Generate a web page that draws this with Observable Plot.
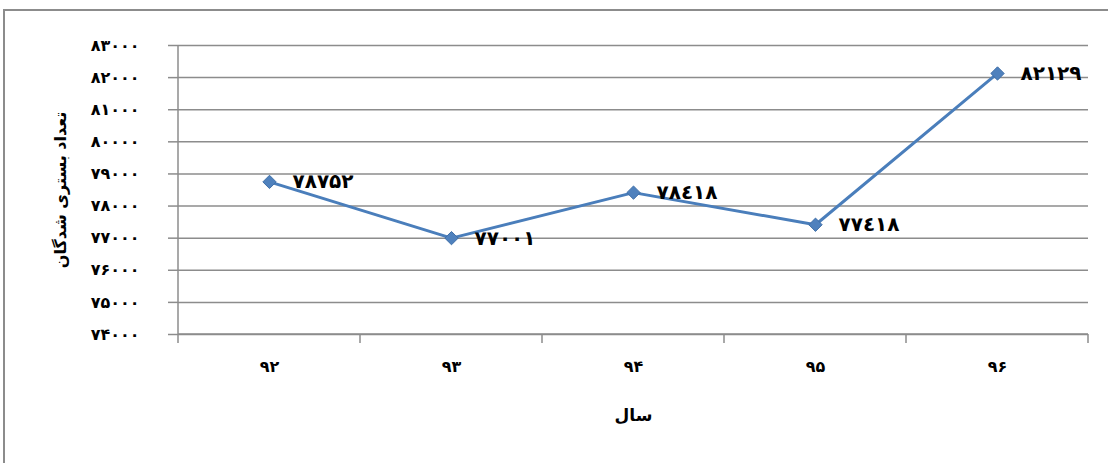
<!DOCTYPE html>
<html>
<head>
<meta charset="utf-8">
<script src="https://cdn.jsdelivr.net/npm/d3@7"></script>
<script src="https://cdn.jsdelivr.net/npm/@observablehq/plot@0.6"></script>
<style>
  html, body { margin: 0; padding: 0; background: #fff; width: 1108px; height: 463px; overflow: hidden; }
  #frame { position: absolute; left: 3px; top: 9px; width: 1200px; height: 600px; border-left: 2px solid #8c8c8c; border-top: 2px solid #8c8c8c; }
  #chart { position: absolute; left: 0; top: 0; }
  #chart svg { background: transparent; }
</style>
</head>
<body>
<div id="frame"></div>
<div id="chart"></div>
<script>
// Data
const years = ["۹۲", "۹۳", "۹۴", "۹۵", "۹۶"];
const values = [78752, 77001, 78418, 77418, 82129];
const valueLabels = ["۷۸۷۵۲", "۷۷۰۰۱", "۷۸٤۱۸", "۷۷٤۱۸", "۸۲۱۲۹"];
const yTicks = [74000, 75000, 76000, 77000, 78000, 79000, 80000, 81000, 82000, 83000];
const yTitle = "تعداد بستری شدگان";
const xTitle = "سال";

const persianDigits = "۰۱۲۳۴۵۶۷۸۹";
const toPersian = v => String(v).replace(/[0-9]/g, d => persianDigits[+d]);

const data = years.map((y, i) => ({year: y, value: values[i], label: valueLabels[i]}));

const font = "'DejaVu Sans', sans-serif";
const gridColor = "#8c8c8c";
const lineColor = "#4a7ebb";

function axisFrame(index, scales, values, dims) {
  const x = scales.x;
  const pos = years.map(c => x(c));
  const step = pos[1] - pos[0];
  const bounds = [...pos.map(p => p - step / 2), pos[pos.length - 1] + step / 2];
  const y0 = dims.height - dims.marginBottom;
  const yTop = dims.marginTop;
  const xLeft = dims.marginLeft;
  const xRight = dims.width - dims.marginRight;
  const g = d3.create("svg:g").attr("stroke", gridColor).attr("stroke-width", 1.5);
  g.append("line").attr("x1", xLeft).attr("x2", xRight).attr("y1", y0).attr("y2", y0);
  g.append("line").attr("x1", xLeft).attr("x2", xLeft).attr("y1", yTop).attr("y2", y0);
  g.selectAll(".bt").data(bounds).join("line")
    .attr("x1", d => d).attr("x2", d => d).attr("y1", y0).attr("y2", y0 + 9);
  return g.node();
}

const plot = Plot.plot({
  width: 1108,
  height: 463,
  marginLeft: 178,
  marginRight: 20,
  marginTop: 45,
  marginBottom: 129,
  style: {fontFamily: font, background: "transparent"},
  x: {type: "point", domain: years, padding: 0.5},
  y: {domain: [74000, 83000]},
  marks: [
    Plot.gridY(yTicks, {stroke: gridColor, strokeOpacity: 1, strokeWidth: 1.5}),
    axisFrame,
    Plot.axisY({ticks: yTicks, tickFormat: toPersian, tickSize: 10, tickPadding: 29, fontSize: 16, fontWeight: "bold", stroke: gridColor, strokeWidth: 1.5, label: null, fill: "#000"}),
    Plot.axisX({tickSize: 0, tickPadding: 26, fontSize: 16, fontWeight: "bold", label: null, fill: "#000"}),
    Plot.text([yTitle], {frameAnchor: "left", textAnchor: "middle", rotate: -90, dx: -118, fontSize: 16, fontWeight: "bold", fill: "#000"}),
    Plot.text([xTitle], {frameAnchor: "bottom", dy: 86, fontSize: 17, fontWeight: "bold", fill: "#000"}),
    Plot.line(data, {x: "year", y: "value", stroke: lineColor, strokeWidth: 3}),
    Plot.dot(data, {x: "year", y: "value", symbol: "diamond2", r: 6, fill: "#4f81bd", stroke: "#3f6fa8", strokeWidth: 1}),
    Plot.text(data, {x: "year", y: "value", text: "label", dx: 23, textAnchor: "start", fontSize: 20, fontWeight: "bold", fill: "#000"})
  ]
});
document.getElementById("chart").appendChild(plot);
</script>
</body>
</html>
